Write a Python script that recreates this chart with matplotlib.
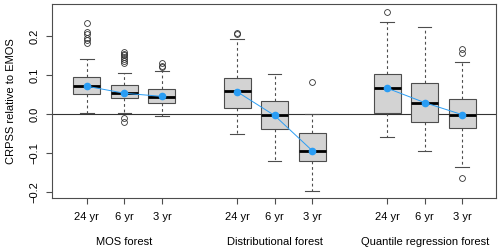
import matplotlib
matplotlib.use("Agg")
import matplotlib.pyplot as plt

plt.rcParams['font.family'] = ['Liberation Sans', 'DejaVu Sans']

# -- data (CRPSS relative to EMOS)
groups = ["MOS forest", "Distributional forest", "Quantile regression forest"]
periods = ["24 yr", "6 yr", "3 yr"]

q1 = [0.050, 0.041, 0.027, 0.016, -0.038, -0.120, 0.003, -0.021, -0.037]
med = [0.071, 0.053, 0.044, 0.058, -0.004, -0.094, 0.066, 0.029, -0.002]
q3 = [0.096, 0.074, 0.063, 0.091, 0.032, -0.050, 0.103, 0.079, 0.038]
whislo = [0.002, 0.002, -0.006, -0.051, -0.120, -0.197, -0.058, -0.095, -0.137]
whishi = [0.142, 0.105, 0.111, 0.193, 0.103, 0.000, 0.236, 0.224, 0.133]
means = [0.071, 0.053, 0.045, 0.057, -0.004, -0.094, 0.066, 0.029, -0.002]
fliers = [
    [0.234, 0.210, 0.205, 0.195, 0.190, 0.183],
    [0.160, 0.155, 0.150, 0.145, 0.140, 0.135, 0.130, -0.011, -0.022],
    [0.130, 0.124, 0.120],
    [0.207, 0.205],
    [],
    [0.081],
    [0.262],
    [],
    [0.166, 0.156, -0.165],
]

positions = [1, 2, 3, 5, 6, 7, 9, 10, 11]

stats = []
for i in range(len(positions)):
    stats.append(dict(q1=q1[i], med=med[i], q3=q3[i], whislo=whislo[i],
                      whishi=whishi[i], fliers=fliers[i], mean=means[i]))

fig, ax = plt.subplots(figsize=(5.0, 2.52), dpi=100)
fig.subplots_adjust(left=0.104, right=0.992, top=0.984, bottom=0.214)

edge = "#4d4d4d"
ax.axhline(0, color="#333333", lw=0.8, zorder=1)

ax.bxp(stats, positions=positions, widths=0.72, patch_artist=True,
       showmeans=False, manage_ticks=False,
       boxprops=dict(facecolor="#d3d3d3", edgecolor=edge, lw=0.8),
       medianprops=dict(color="black", lw=2.0),
       whiskerprops=dict(color=edge, lw=0.8, linestyle=(0, (2.5, 2.5))),
       capprops=dict(color=edge, lw=0.8),
       flierprops=dict(marker="o", markersize=4.2, markerfacecolor="none",
                       markeredgecolor="#333333", markeredgewidth=0.6),
       capwidths=0.36)

# -- mean lines per group
blue = "#2a9df4"
for g in range(3):
    xs = positions[3 * g:3 * g + 3]
    ys = means[3 * g:3 * g + 3]
    ax.plot(xs, ys, color=blue, lw=0.7, zorder=4)
    ax.plot(xs, ys, "o", color=blue, ms=4.5, zorder=5)

ax.set_xlim(0.07, 11.9)
ax.set_ylim(-0.216, 0.282)

ax.set_xticks(positions)
ax.set_xticklabels(periods * 3, fontsize=8)
ax.set_yticks([-0.2, -0.1, 0.0, 0.1, 0.2])
ax.set_yticklabels(["\u22120.2", "\u22120.1", "0.0", "0.1", "0.2"],
                   fontsize=8, rotation=90, va="center")
ax.tick_params(axis="both", direction="out", length=4, color=edge,
               width=0.8, pad=6)
ax.tick_params(axis="y", pad=5)
ax.set_ylabel("CRPSS relative to EMOS", fontsize=8, labelpad=10)

for sp in ax.spines.values():
    sp.set_color(edge)
    sp.set_linewidth(0.8)

for g, name in enumerate(groups):
    ax.text(positions[3 * g + 1], -0.328, name, ha="center", va="center",
            fontsize=8, transform=ax.transData, clip_on=False)

fig.savefig("out.png", dpi=100)
